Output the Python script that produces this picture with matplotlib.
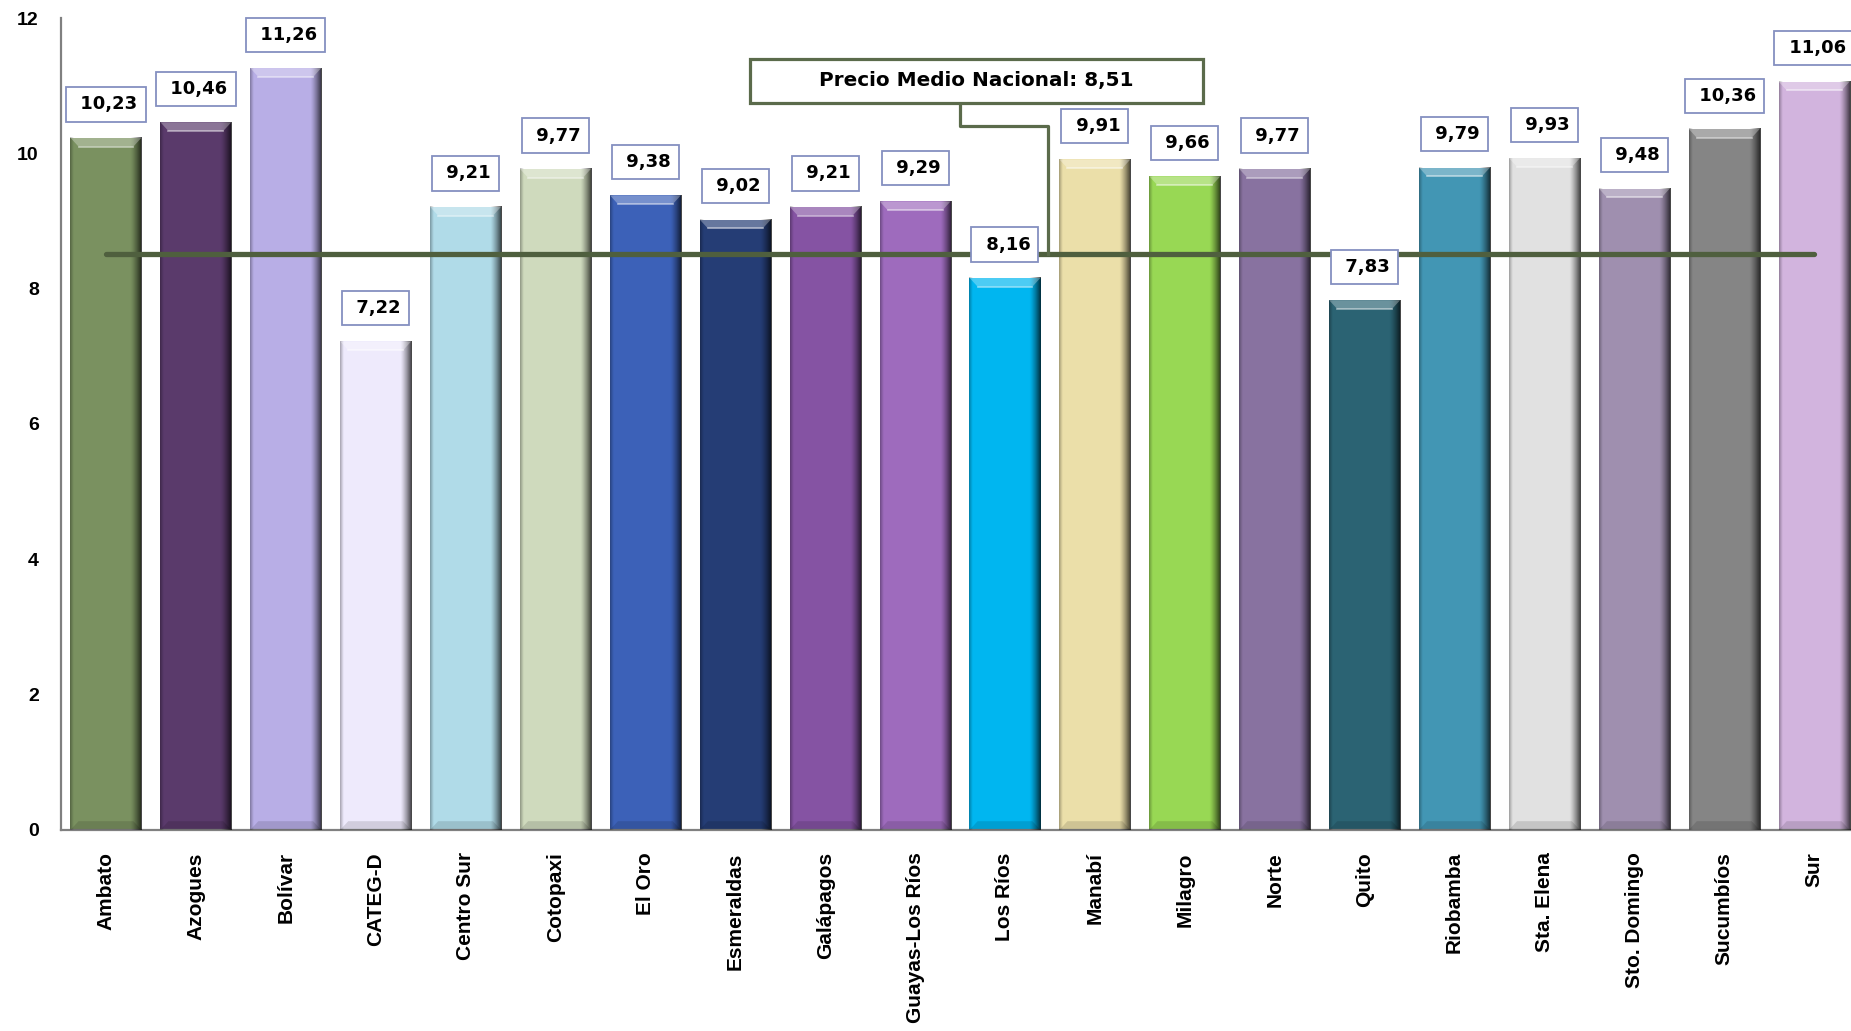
import numpy as np
import matplotlib
matplotlib.use('Agg')
import matplotlib.pyplot as plt
from matplotlib.patches import Rectangle, Polygon

# datos
regiones = ['Ambato', 'Azogues', 'Bolívar', 'CATEG-D', 'Centro Sur', 'Cotopaxi',
            'El Oro', 'Esmeraldas', 'Galápagos', 'Guayas-Los Ríos', 'Los Ríos',
            'Manabí', 'Milagro', 'Norte', 'Quito', 'Riobamba', 'Sta. Elena',
            'Sto. Domingo', 'Sucumbíos', 'Sur']
precios = [10.23, 10.46, 11.26, 7.22, 9.21, 9.77, 9.38, 9.02, 9.21, 9.29, 8.16,
           9.91, 9.66, 9.77, 7.83, 9.79, 9.93, 9.48, 10.36, 11.06]
colores = ['#7a9160', '#5a3a6b', '#b8aee6', '#eeeafc', '#b0dbe8', '#cfdabd',
           '#3c61b8', '#253d75', '#8553a3', '#9e6bbd', '#00b6f0', '#ebdfa9',
           '#98d854', '#8872a0', '#2b6373', '#4296b4', '#e1e1e1', '#9f8faf',
           '#858585', '#d2b4de']
precio_medio = 8.51
y_ticks = [0, 2, 4, 6, 8, 10, 12]

VERDE = '#4f5f3e'
VERDE_CAJA = '#5b6b4b'
BORDE_ETQ = '#8590c0'
ANCHO = 0.79


def fmt(v):
    return f'{v:.2f}'.replace('.', ',')


def barra_biselada(ax, x, h, color):
    """Barra con efecto de bisel (estilo Excel)"""
    x0, x1 = x - ANCHO / 2, x + ANCHO / 2
    ax.bar(x, h, width=ANCHO, color=color, zorder=2, linewidth=0)
    # sombreado lateral
    t = np.linspace(0, 1, 200)
    alpha = np.zeros_like(t)
    izq = t < 0.05
    alpha[izq] = 0.3 * (1 - t[izq] / 0.05)
    der = t > 0.84
    alpha[der] = ((t[der] - 0.84) / 0.16) ** 1.3 * 0.75
    rgba = np.zeros((1, len(t), 4))
    rgba[..., 3] = alpha
    ax.imshow(rgba, extent=(x0, x1, 0, h), aspect='auto', zorder=3,
              interpolation='bilinear')
    # bisel superior
    bh, d = 0.13, 0.09
    ax.add_patch(Polygon([(x0, h), (x1, h), (x1 - d, h - bh), (x0 + d, h - bh)],
                         closed=True, facecolor='white', alpha=0.3,
                         edgecolor='none', zorder=4))
    ax.plot([x0 + d, x1 - d], [h - bh, h - bh], color='white', alpha=0.5,
            linewidth=1.2, zorder=4)
    # bisel inferior
    ax.add_patch(Polygon([(x0, 0), (x1, 0), (x1 - d, bh), (x0 + d, bh)],
                         closed=True, facecolor='black', alpha=0.12,
                         edgecolor='none', zorder=4))


fig = plt.figure(figsize=(18.51, 10.31), dpi=100)
ax = fig.add_axes([61 / 1851, 1 - 830 / 1031, 1 - 61 / 1851, 812 / 1031])

xs = np.arange(len(regiones))
for x, h, c in zip(xs, precios, colores):
    barra_biselada(ax, x, h, c)

# linea del precio medio
ax.plot([xs[0], xs[-1]], [precio_medio, precio_medio], color=VERDE,
        linewidth=3.8, solid_capstyle='round', zorder=5)

# etiquetas de valor
for x, h in zip(xs, precios):
    ax.annotate(f' {fmt(h)}', xy=(x, h), xytext=(0, 24), textcoords='offset points',
                ha='center', va='center', fontsize=13, fontweight='bold',
                family='DejaVu Sans', zorder=6,
                bbox=dict(boxstyle='square,pad=0.45', facecolor='white',
                          edgecolor=BORDE_ETQ, linewidth=1.3))

# rotulo del precio medio
caja = (7.16, 10.74, 5.04, 0.66)   # x, y, ancho, alto (datos)
ax.add_patch(Rectangle(caja[:2], caja[2], caja[3], facecolor='white',
                       edgecolor=VERDE_CAJA, linewidth=2.3, zorder=6))
ax.text(caja[0] + caja[2] / 2, caja[1] + caja[3] / 2,
        f'Precio Medio Nacional: {fmt(precio_medio)}', ha='center', va='center',
        fontsize=14.4, fontweight='bold', family='DejaVu Sans', zorder=7)
conector_x = [9.5, 9.5, 10.48, 10.48]
conector_y = [caja[1], 10.41, 10.41, precio_medio]
ax.plot(conector_x, conector_y, color=VERDE_CAJA, linewidth=2.3, zorder=5)

ax.set_xlim(-0.5, 19.41)
ax.set_ylim(0, 12)
ax.set_yticks(y_ticks)
ax.set_yticklabels([str(v) for v in y_ticks], fontsize=14, fontweight='bold',
                   family='Liberation Sans')
ax.set_xticks(xs)
ax.set_xticklabels(regiones, rotation=90, fontsize=15, fontweight='bold',
                   family='Liberation Sans', va='top', ha='center')
ax.tick_params(axis='y', length=0, pad=16)
ax.tick_params(axis='x', length=0, pad=16)

for s in ['top', 'right']:
    ax.spines[s].set_visible(False)
for s in ['left', 'bottom']:
    ax.spines[s].set_color('#808080')
    ax.spines[s].set_linewidth(1.6)

fig.savefig('out.png', dpi=100)
plt.close(fig)
